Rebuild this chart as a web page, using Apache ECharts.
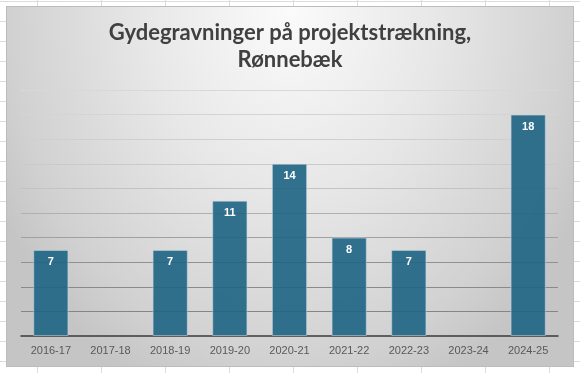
<!DOCTYPE html>
<html>
<head>
<meta charset="utf-8">
<script src="https://cdn.jsdelivr.net/npm/echarts@6/dist/echarts.min.js"></script>
<style>
  html, body { margin: 0; padding: 0; width: 580px; height: 373px; overflow: hidden; }
  body {
    background-color: #ffffff;
    background-image:
      linear-gradient(to right, #dcdcdc 1px, transparent 1px),
      linear-gradient(to bottom, #dcdcdc 1px, transparent 1px);
    background-size: 64px 20px;
    background-position: 37px 1px;
  }
  #frame {
    position: absolute; left: 6px; top: 6px; width: 568px; height: 361px;
    box-sizing: border-box; border: 1px solid #bcbcbc;
    background: radial-gradient(ellipse 330px 420px at 50% 0%, #fbfbfb 0%, #e7e7e7 45%, #d1d1d1 85%, #c5c5c5 100%);
  }
  #chart { position: absolute; left: 0; top: 0; width: 566px; height: 359px; }
</style>
</head>
<body>
<div id="frame"><div id="chart"></div></div>
<script>
const titleLines = ['Gydegravninger på projektstrækning,', 'Rønnebæk'];
const categories = ['2016-17', '2017-18', '2018-19', '2019-20', '2020-21', '2021-22', '2022-23', '2023-24', '2024-25'];
const values = [7, 0, 7, 11, 14, 8, 7, 0, 18];
const yMin = 0, yMax = 20, yStep = 2;
const gridColors = ['rgba(0,0,0,0)', '#858585', '#8a8a8a', '#919191', '#a0a0a0', '#b0b0b0', '#c3c3c3', '#cacaca', '#cfcfcf', '#d4d4d4', '#d8d8d8'];

const chart = echarts.init(document.getElementById('chart'), null, { renderer: 'canvas' });
chart.setOption({
  backgroundColor: 'transparent',
  animation: false,
  title: {
    text: titleLines.join('\n'),
    left: 'center',
    top: 7,
    textStyle: {
      fontFamily: 'Lato',
      fontWeight: 'bold',
      fontSize: 22,
      lineHeight: 27,
      color: '#404040'
    }
  },
  grid: { left: 14, right: 15, top: 83, bottom: 30 },
  xAxis: {
    type: 'category',
    data: categories,
    axisTick: { show: false },
    axisLine: { lineStyle: { color: '#3a3a3a', width: 1.5 } },
    axisLabel: { color: '#595959', fontSize: 11, fontFamily: 'Liberation Sans', margin: 9 }
  },
  yAxis: {
    type: 'value',
    min: yMin, max: yMax, interval: yStep,
    axisLabel: { show: false },
    axisLine: { show: false },
    axisTick: { show: false },
    splitLine: { lineStyle: { color: gridColors, width: 1 } }
  },
  series: [{
    type: 'bar',
    data: values.map(v => (v === 0 ? null : v)),
    barWidth: '59%',
    itemStyle: { color: 'rgba(30,100,132,0.9)', borderColor: 'rgba(200,215,225,0.55)', borderWidth: 1 },
    label: {
      show: true,
      position: 'insideTop',
      distance: 7,
      color: '#ffffff',
      fontWeight: 'bold',
      fontSize: 11,
      fontFamily: 'Liberation Sans'
    }
  }]
});
</script>
</body>
</html>
